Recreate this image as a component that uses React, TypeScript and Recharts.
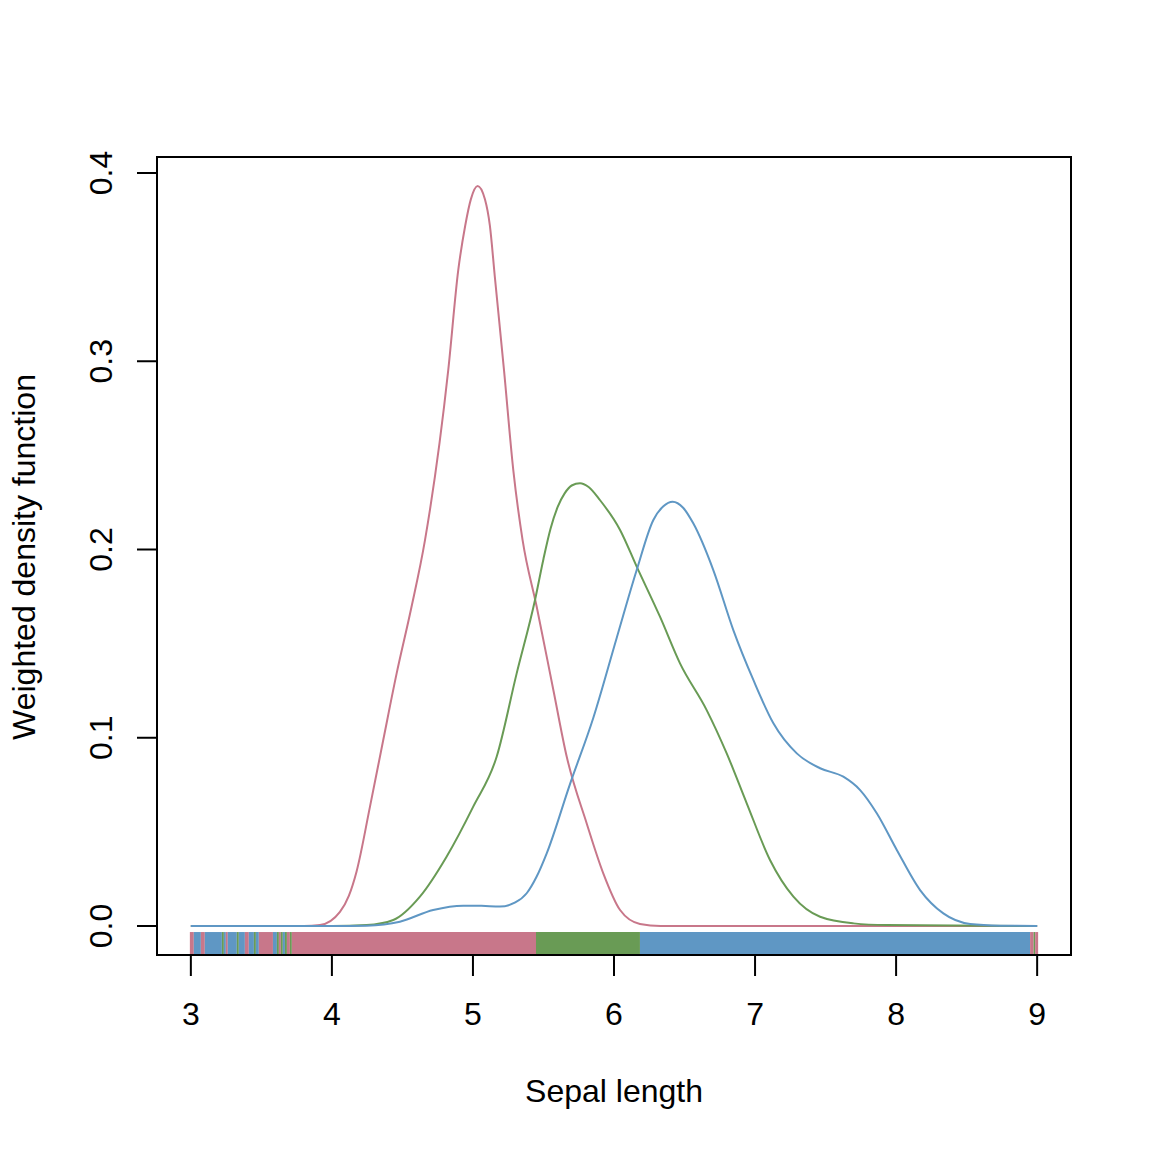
import React from "react";
import { LineChart, Line, XAxis, YAxis, ReferenceArea } from "recharts";

// density curves (x = sepal length, y = weighted density)
const redDensity = [
  { x: 3.0, y: 0 }, { x: 3.8, y: 0 }, { x: 3.915, y: 0.0005 }, { x: 4.057, y: 0.0075 },
  { x: 4.12, y: 0.016 }, { x: 4.175, y: 0.029 }, { x: 4.27, y: 0.0634 }, { x: 4.364, y: 0.0988 },
  { x: 4.459, y: 0.1342 }, { x: 4.56, y: 0.168 }, { x: 4.66, y: 0.205 }, { x: 4.825, y: 0.2954 },
  { x: 4.896, y: 0.3485 }, { x: 4.945, y: 0.372 }, { x: 4.985, y: 0.386 }, { x: 5.033, y: 0.3931 },
  { x: 5.085, y: 0.386 }, { x: 5.12, y: 0.372 }, { x: 5.155, y: 0.345 },
  { x: 5.22, y: 0.2954 }, { x: 5.286, y: 0.2422 }, { x: 5.352, y: 0.205 }, { x: 5.452, y: 0.1696 },
  { x: 5.57, y: 0.1254 }, { x: 5.665, y: 0.0899 }, { x: 5.806, y: 0.0546 }, { x: 5.924, y: 0.028 },
  { x: 6.043, y: 0.0085 }, { x: 6.184, y: 0.0011 }, { x: 6.33, y: 0 }, { x: 9.0, y: 0 },
];

const greenDensity = [
  { x: 3.0, y: 0 }, { x: 4.0, y: 0 }, { x: 4.246, y: 0.0005 }, { x: 4.435, y: 0.0032 },
  { x: 4.624, y: 0.0156 }, { x: 4.813, y: 0.0368 }, { x: 5.002, y: 0.0634 }, { x: 5.168, y: 0.0899 },
  { x: 5.31, y: 0.1342 }, { x: 5.44, y: 0.1732 }, { x: 5.5, y: 0.195 }, { x: 5.55, y: 0.211 },
  { x: 5.6, y: 0.2225 }, { x: 5.65, y: 0.2298 }, { x: 5.7, y: 0.234 }, { x: 5.759, y: 0.2352 },
  { x: 5.82, y: 0.2332 }, { x: 5.9, y: 0.2263 }, { x: 6.043, y: 0.2104 },
  { x: 6.161, y: 0.1909 }, { x: 6.326, y: 0.1643 }, { x: 6.468, y: 0.1395 }, { x: 6.657, y: 0.1147 },
  { x: 6.799, y: 0.0917 }, { x: 6.941, y: 0.0652 }, { x: 7.106, y: 0.0351 }, { x: 7.272, y: 0.0156 },
  { x: 7.461, y: 0.0049 }, { x: 7.697, y: 0.0014 }, { x: 7.934, y: 0.0005 }, { x: 9.0, y: 0 },
];

const blueDensity = [
  { x: 3.0, y: 0 }, { x: 4.0, y: 0 }, { x: 4.246, y: 0.0002 }, { x: 4.482, y: 0.0023 },
  { x: 4.718, y: 0.0085 }, { x: 4.931, y: 0.0108 }, { x: 5.06, y: 0.0107 }, { x: 5.191, y: 0.0103 },
  { x: 5.3, y: 0.0125 }, { x: 5.381, y: 0.0174 }, { x: 5.45, y: 0.026 }, { x: 5.523, y: 0.0386 },
  { x: 5.688, y: 0.0754 }, { x: 5.853, y: 0.1105 },
  { x: 6.019, y: 0.153 }, { x: 6.161, y: 0.1891 }, { x: 6.279, y: 0.2157 }, { x: 6.35, y: 0.223 },
  { x: 6.416, y: 0.2254 }, { x: 6.49, y: 0.2222 },
  { x: 6.562, y: 0.2139 }, { x: 6.704, y: 0.1891 }, { x: 6.846, y: 0.1572 }, { x: 6.988, y: 0.1307 },
  { x: 7.13, y: 0.1077 }, { x: 7.296, y: 0.0917 }, { x: 7.461, y: 0.0838 }, { x: 7.626, y: 0.0793 },
  { x: 7.745, y: 0.0722 }, { x: 7.863, y: 0.0599 }, { x: 8.005, y: 0.0404 }, { x: 8.17, y: 0.0191 },
  { x: 8.335, y: 0.0067 }, { x: 8.525, y: 0.0011 }, { x: 8.74, y: 0.0002 }, { x: 9.0, y: 0 },
];

// coloured strip under the curves: which group wins along x
const stripSegments = [
  { from: 2.993, to: 3.021, group: "red" }, { from: 3.021, to: 3.071, group: "blue" },
  { from: 3.071, to: 3.099, group: "red" }, { from: 3.099, to: 3.22, group: "blue" },
  { from: 3.22, to: 3.234, group: "green" }, { from: 3.234, to: 3.248, group: "blue" },
  { from: 3.248, to: 3.262, group: "red" }, { from: 3.262, to: 3.326, group: "blue" },
  { from: 3.326, to: 3.34, group: "green" }, { from: 3.34, to: 3.383, group: "blue" },
  { from: 3.383, to: 3.411, group: "red" }, { from: 3.411, to: 3.447, group: "blue" },
  { from: 3.447, to: 3.461, group: "green" }, { from: 3.461, to: 3.482, group: "blue" },
  { from: 3.482, to: 3.582, group: "red" }, { from: 3.582, to: 3.61, group: "blue" },
  { from: 3.61, to: 3.624, group: "green" }, { from: 3.624, to: 3.638, group: "red" },
  { from: 3.638, to: 3.652, group: "green" }, { from: 3.652, to: 3.667, group: "blue" },
  { from: 3.667, to: 3.681, group: "green" }, { from: 3.681, to: 3.702, group: "red" },
  { from: 3.702, to: 3.716, group: "green" }, { from: 3.716, to: 5.447, group: "red" },
  { from: 5.447, to: 6.184, group: "green" }, { from: 6.184, to: 8.95, group: "blue" },
  { from: 8.95, to: 8.975, group: "red" }, { from: 8.975, to: 8.986, group: "green" },
  { from: 8.986, to: 9.007, group: "red" },
];

const xTicks = [3, 4, 5, 6, 7, 8, 9];
const yTicks = [0, 0.1, 0.2, 0.3, 0.4];

const colors: Record<string, string> = {
  red: "#c8778a",
  green: "#699b55",
  blue: "#5f97c4",
};

const X_DOMAIN: [number, number] = [2.76, 9.24];
const Y_DOMAIN: [number, number] = [-0.0154, 0.4085];
const STRIP_TOP = -0.0032;
const FONT = "'Liberation Sans', Arial, Helvetica, sans-serif";

const XTick = ({ x, y, payload }: any) => (
  <text x={x} y={y} textAnchor="middle" fontFamily={FONT} fontSize={32} fill="#000">
    {payload.value}
  </text>
);

const YTick = ({ x, y, payload }: any) => (
  <text
    x={x}
    y={y}
    transform={`rotate(-90, ${x}, ${y})`}
    textAnchor="middle"
    fontFamily={FONT}
    fontSize={32}
    fill="#000"
  >
    {payload.value.toFixed(1)}
  </text>
);

export default function App() {
  return (
    <div style={{ position: "absolute", left: 0, top: 0, width: 1152, height: 1152, background: "#fff" }}>
      <LineChart
        width={1152}
        height={1152}
        margin={{ top: 157, right: 81, bottom: 137, left: 97 }}
      >
        <XAxis
          dataKey="x"
          type="number"
          domain={X_DOMAIN}
          ticks={xTicks}
          allowDataOverflow
          axisLine={false}
          tickLine={{ stroke: "#000", strokeWidth: 2 }}
          tickSize={21}
          tickMargin={49}
          tick={<XTick />}
          height={60}
          interval={0}
          label={{
            content: () => (
              <text x={614} y={1102} textAnchor="middle" fontFamily={FONT} fontSize={32} fill="#000">
                Sepal length
              </text>
            ),
          }}
        />
        <YAxis
          type="number"
          domain={Y_DOMAIN}
          ticks={yTicks}
          allowDataOverflow
          axisLine={false}
          tickLine={{ stroke: "#000", strokeWidth: 2 }}
          tickSize={20}
          tickMargin={25}
          tick={<YTick />}
          width={60}
          interval={0}
          label={{
            content: () => (
              <text
                x={35}
                y={557}
                transform="rotate(-90, 35, 557)"
                textAnchor="middle"
                fontFamily={FONT}
                fontSize={32}
                fill="#000"
              >
                Weighted density function
              </text>
            ),
          }}
        />
        {stripSegments.map((s, i) => (
          <ReferenceArea
            key={`strip-${i}`}
            x1={s.from}
            x2={s.to}
            y1={Y_DOMAIN[0]}
            y2={STRIP_TOP}
            fill={colors[s.group]}
            fillOpacity={1}
            stroke="none"
          />
        ))}
        <Line data={redDensity} dataKey="y" type="monotone" stroke={colors.red} strokeWidth={2} dot={false} isAnimationActive={false} />
        <Line data={greenDensity} dataKey="y" type="monotone" stroke={colors.green} strokeWidth={2} dot={false} isAnimationActive={false} />
        <Line data={blueDensity} dataKey="y" type="monotone" stroke={colors.blue} strokeWidth={2} dot={false} isAnimationActive={false} />
        <ReferenceArea
          x1={X_DOMAIN[0]}
          x2={X_DOMAIN[1]}
          y1={Y_DOMAIN[0]}
          y2={Y_DOMAIN[1]}
          fill="none"
          stroke="#000"
          strokeWidth={2}
          ifOverflow="visible"
        />
      </LineChart>
    </div>
  );
}
